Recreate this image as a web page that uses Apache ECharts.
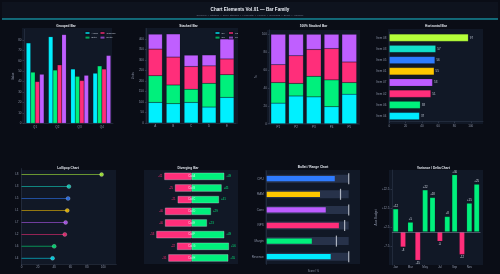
<!DOCTYPE html>
<html><head><meta charset="utf-8">
<script src="https://cdn.jsdelivr.net/npm/echarts@6/dist/echarts.min.js"></script>
<style>html,body{margin:0;padding:0;background:#0a0d16;}#c{width:500px;height:274px;}</style>
</head><body><div id="c"></div><script>
// ---------- DATA ----------
const groupedCats = ['Q1','Q2','Q3','Q4'];
const groupedAlpha = [77,83,52,48];
const groupedBeta  = [49,51,45,55];
const groupedGamma = [40,56,41,52];
const groupedDelta = [47,85,46,65];

const stackedCats = ['A','B','C','D','E'];
const stackedS1 = [98,92,98,76,122];
const stackedS2 = [127,89,63,113,108];
const stackedS3 = [127,133,108,83,75];
const stackedS4 = [71,110,54,52,95];

const pctCats = ['P1','P2','P3','P4','P5'];
const pctS1 = [23,31,30,19,33];
const pctS2 = [23,14,23,30,13];
const pctS3 = [20,31,30,35,23];
const pctS4 = [34,24,17,16,31];

const hbarCats = ['Item 08','Item 03','Item 05','Item 01','Item 07','Item 02','Item 06','Item 04'];
const hbarValues = [97,57,56,55,53,51,38,37];

const lolliCats = ['L8','L3','L5','L1','L7','L2','L6','L4'];
const lolliValues = [98,58,57,56,54,53,40,38];

const divCats = ['Cat A','Cat B','Cat C','Cat D','Cat E','Cat F','Cat G','Cat H'];
const divNeg = [-41,-25,-21,-40,-40,-53,-22,-35];
const divPos = [49,45,41,29,23,49,56,55];

const bulletCats = ['CPU','RAM','Conv','NPS','Margin','Revenue'];
const bulletValues = [83,65,72,88,55,78];
const bulletTargets = [100,90,100,95,85,100];
const bulletRange = [100,100,100,100,100,100];

const varMonths = ['Jan','Feb','Mar','Apr','May','Jun','Jul','Aug','Sep','Oct','Nov','Dec'];
const varValues = [12,-8,5,-15,22,18,-5,8,30,-12,15,25];

// ---------- STYLE ----------
const CY='#00f0ff', GR='#00f07c', PK='#ff2e7a', PU='#bf5fff';
const hColors = ['#b5ff3a','#12e0c9','#2f7cff','#ffc800','#bd5cff','#ff2e7a','#00f07c','#00eaff'];
const bColors = ['#2f7cff','#ffc800','#bd5cff','#ff2e7a','#00f07c','#00eaff'];
const FONT = 'Liberation Sans';
const LBL = {color:'#8b93a7', fontSize:3, fontFamily:FONT};
const AXL = {show:true, lineStyle:{color:'#2e3749', width:0.6}};
const TICK = {show:true, length:1.5, lineStyle:{color:'#4a5366', width:0.5}};
const border = {borderColor:'rgba(5,8,15,0.3)', borderWidth:0.4};

const bgRects = [[22,28,90,96],[145,28,93,96],[267,30,93,95],[388,29,95,95],
                 [21,170,95,94],[144,170,94,94],[265,170,95,94],[389,170,94,95]];
const titles = [['Grouped Bar',66,26.5],['Stacked Bar',188.5,26.5],['100% Stacked Bar',313.5,26.5],['Horizontal Bar',436,26.5],
                ['Lollipop Chart',68,167.8],['Diverging Bar',188,167.8],['Bullet / Range Chart',313,167.5],['Variance / Delta Chart',433.5,167.8]];

const graphic = [
  {type:'rect', shape:{x:2,y:2,width:496,height:17}, style:{fill:'#0e131e'}, z:-20, silent:true},
  {type:'rect', shape:{x:2,y:18.5,width:496,height:1}, style:{fill:'#19c2d4'}, z:-19, silent:true},
  {type:'text', x:250, y:9.8, z:50, style:{text:'Chart Elements Vol.01 — Bar Family', fill:'#e8ecf3', fontSize:4.6, fontWeight:'bold', fontFamily:FONT, textAlign:'center', textVerticalAlign:'middle', align:'center', verticalAlign:'middle'}},
  {type:'text', x:250, y:15.3, z:50, style:{text:'Grouped  •  Stacked  •  100% Stacked  •  Horizontal  •  Lollipop  •  Diverging  •  Bullet  •  Variance', fill:'#6f7a90', fontSize:2.5, fontFamily:FONT, textAlign:'center', textVerticalAlign:'middle', align:'center', verticalAlign:'middle'}}
];
bgRects.forEach(r=>graphic.push({type:'rect', shape:{x:r[0],y:r[1],width:r[2],height:r[3]}, style:{fill:'#111826'}, z:-10, silent:true}));
titles.forEach(t=>graphic.push({type:'text', x:t[1], y:t[2], z:50, style:{text:t[0], fill:'#e4e8ef', fontSize:3.2, fontWeight:'bold', fontFamily:FONT, textAlign:'center', textVerticalAlign:'middle', align:'center', verticalAlign:'middle'}}));

const grids = [
  {left:24, top:29.4, width:89, height:93.9},
  {left:146.4, top:28.5, width:89.5, height:94.5},
  {left:269.4, top:29.8, width:88.75, height:93.9},
  {left:389.3, top:32.1, width:93.7, height:89.6},
  {left:21.5, top:168.6, width:94.8, height:95.7},
  {left:144, top:170.5, width:94.3, height:93.3},
  {left:266.7, top:170.9, width:93.5, height:93.6},
  {left:392, top:170, width:88.4, height:95}
].map(g=>Object.assign({containLabel:false, show:false}, g));

const catX = (gi, data, margin) => ({type:'category', gridIndex:gi, data, axisLabel:Object.assign({margin:margin||2}, LBL), axisLine:AXL, axisTick:{show:false}, splitLine:{show:false}});
const valY = (gi, o) => Object.assign({type:'value', gridIndex:gi, axisLabel:Object.assign({margin:2.5, showMaxLabel:false}, LBL), axisLine:AXL, axisTick:TICK, splitLine:{show:false},
   nameTextStyle:{color:'#8b93a7', fontSize:3, fontFamily:FONT}, nameLocation:'middle'}, o);

const xAxis = [
  catX(0, groupedCats),
  catX(1, stackedCats),
  catX(2, pctCats),
  {type:'value', gridIndex:3, min:0, max:115, interval:20, axisLabel:Object.assign({margin:2.5, showMaxLabel:false}, LBL), axisLine:AXL, axisTick:TICK, splitLine:{show:false}},
  {type:'value', gridIndex:4, min:0, max:116, interval:20, axisLabel:Object.assign({margin:1.2, showMaxLabel:false}, LBL), axisLine:AXL, axisTick:TICK, splitLine:{show:false}},
  {type:'value', gridIndex:5, min:-71.5, max:70, show:false, splitLine:{show:false}},
  {type:'value', gridIndex:6, min:0, max:114, axisLabel:{show:false}, axisLine:{show:false}, axisTick:{show:false}, splitLine:{show:false},
     name:'Score / %', nameLocation:'middle', nameGap:5, nameTextStyle:{color:'#8b93a7', fontSize:2.6, fontFamily:FONT}},
  catX(7, varMonths, 1)
];
const catY = (gi, data, show) => ({type:'category', gridIndex:gi, data, inverse:true, show:show!==false,
   axisLabel:Object.assign({margin:3}, LBL), axisLine:AXL, axisTick:{show:false}, splitLine:{show:false}});
const yAxis = [
  valY(0, {min:0, max:90, interval:10, name:'Value', nameGap:8}),
  valY(1, {min:0, max:450, interval:50, name:'Units', nameGap:9}),
  valY(2, {min:0, max:105, interval:20, name:'%', nameGap:11}),
  catY(3, hbarCats),
  catY(4, lolliCats),
  Object.assign(catY(5, divCats), {show:false}),
  catY(6, bulletCats),
  valY(7, {min:-17.5, max:32.5, interval:10, name:'Δ vs Budget', nameGap:10,
     axisLabel:Object.assign({margin:2.5, showMaxLabel:false, showMinLabel:false, formatter:v=>v>0?'+'+v:String(v)}, LBL)}),
  Object.assign(catY(6, bulletCats, false), {show:false})
];

const series = [];
// Grouped
[['Alpha',groupedAlpha,CY],['Beta',groupedBeta,GR],['Gamma',groupedGamma,PK],['Delta',groupedDelta,PU]].forEach(s=>{
  series.push({type:'bar', name:s[0], xAxisIndex:0, yAxisIndex:0, data:s[1], barWidth:'20%', barGap:'0%', itemStyle:Object.assign({color:s[2]}, border)});
});
// Stacked
[['S1',stackedS1,CY],['S2',stackedS2,GR],['S3',stackedS3,PK],['S4',stackedS4,PU]].forEach(s=>{
  series.push({type:'bar', name:s[0], stack:'st', xAxisIndex:1, yAxisIndex:1, data:s[1], barWidth:'78%', itemStyle:Object.assign({color:s[2]}, border)});
});
// 100% stacked
[['Seg1',pctS1,CY],['Seg2',pctS2,GR],['Seg3',pctS3,PK],['Seg4',pctS4,PU]].forEach(s=>{
  series.push({type:'bar', name:s[0], stack:'pct', xAxisIndex:2, yAxisIndex:2, data:s[1], barWidth:'83%', itemStyle:Object.assign({color:s[2]}, border)});
});
// Horizontal
series.push({type:'bar', xAxisIndex:3, yAxisIndex:3, barWidth:'65%', itemStyle:border,
  data:hbarValues.map((v,i)=>({value:v, itemStyle:{color:hColors[i]}})),
  label:{show:true, position:'right', distance:1.5, fontSize:3, color:'#b9c1cf', fontFamily:FONT}});
// Lollipop
series.push({type:'bar', xAxisIndex:4, yAxisIndex:4, barWidth:1,
  data:lolliValues.map((v,i)=>({value:v, itemStyle:{color:hColors[i], opacity:0.55}}))});
series.push({type:'scatter', xAxisIndex:4, yAxisIndex:4, symbolSize:4, z:5,
  data:lolliValues.map((v,i)=>({value:[v,i], itemStyle:{color:hColors[i], borderColor:'rgba(255,255,255,0.5)', borderWidth:0.5}}))});
// Diverging
series.push({type:'bar', stack:'d', xAxisIndex:5, yAxisIndex:5, barWidth:'63%', data:divNeg,
  itemStyle:{color:PK, borderColor:'rgba(215,222,232,0.55)', borderWidth:0.6},
  label:{show:true, position:'left', distance:2, fontSize:2.8, color:PK, fontFamily:FONT}});
series.push({type:'bar', stack:'d', xAxisIndex:5, yAxisIndex:5, barWidth:'63%', data:divPos,
  itemStyle:{color:GR, borderColor:'rgba(215,222,232,0.55)', borderWidth:0.6},
  label:{show:true, position:'right', distance:2, fontSize:2.8, color:GR, fontFamily:FONT, formatter:p=>'+'+p.value}});
series.push({type:'scatter', xAxisIndex:5, yAxisIndex:5, symbolSize:1, z:6, silent:true,
  itemStyle:{color:'rgba(0,0,0,0)'},
  data:divCats.map((c,i)=>[0,i]),
  label:{show:true, position:'inside', formatter:p=>divCats[p.dataIndex], fontSize:2.8, color:'#ffffff', fontFamily:FONT}});
// Bullet
series.push({type:'bar', xAxisIndex:6, yAxisIndex:8, barWidth:8, data:bulletRange, silent:true, z:1,
  itemStyle:{color:'#27324a'}});
series.push({type:'bar', xAxisIndex:6, yAxisIndex:6, barWidth:5.3, z:2,
  data:bulletValues.map((v,i)=>({value:v, itemStyle:{color:bColors[i]}}))});
series.push({type:'scatter', xAxisIndex:6, yAxisIndex:6, symbol:'rect', symbolSize:[1.2,11], z:3,
  data:bulletTargets.map((t,i)=>[t,i]), itemStyle:{color:'#cfd5df'}});
// Variance
series.push({type:'bar', xAxisIndex:7, yAxisIndex:7, barWidth:'72%', itemStyle:border,
  data:varValues.map(v=>({value:v, itemStyle:{color:v>=0?GR:PK}, label:{position:v>=0?'top':'bottom'}})),
  label:{show:true, distance:1.5, fontSize:2.8, color:'#d7dde8', fontFamily:FONT, formatter:p=>p.value>0?'+'+p.value:String(p.value)},
  markLine:{silent:true, symbol:'none', data:[{yAxis:0}], lineStyle:{color:'#6a7387', width:0.6, type:'solid'}, label:{show:false}}});

const legStyle = {orient:'vertical', top:31, itemWidth:4, itemHeight:2, itemGap:0.6, icon:'rect',
  textStyle:{color:'#c0c7d4', fontSize:2.5, fontFamily:FONT, padding:[0,0,0,-3]}, padding:0};
const legend = [
  Object.assign({data:['Alpha','Beta'], left:84.5}, legStyle),
  Object.assign({data:['Gamma','Delta'], left:99.5}, legStyle),
  Object.assign({data:['S1','S2'], left:214.5}, legStyle),
  Object.assign({data:['S3','S4'], left:228}, legStyle)
];

const chart = echarts.init(document.getElementById('c'), null, {renderer:'canvas'});
chart.setOption({
  backgroundColor:'#0a0d16',
  animation:false,
  textStyle:{fontFamily:FONT},
  graphic, grid:grids, xAxis, yAxis, series, legend
});
</script></body></html>
